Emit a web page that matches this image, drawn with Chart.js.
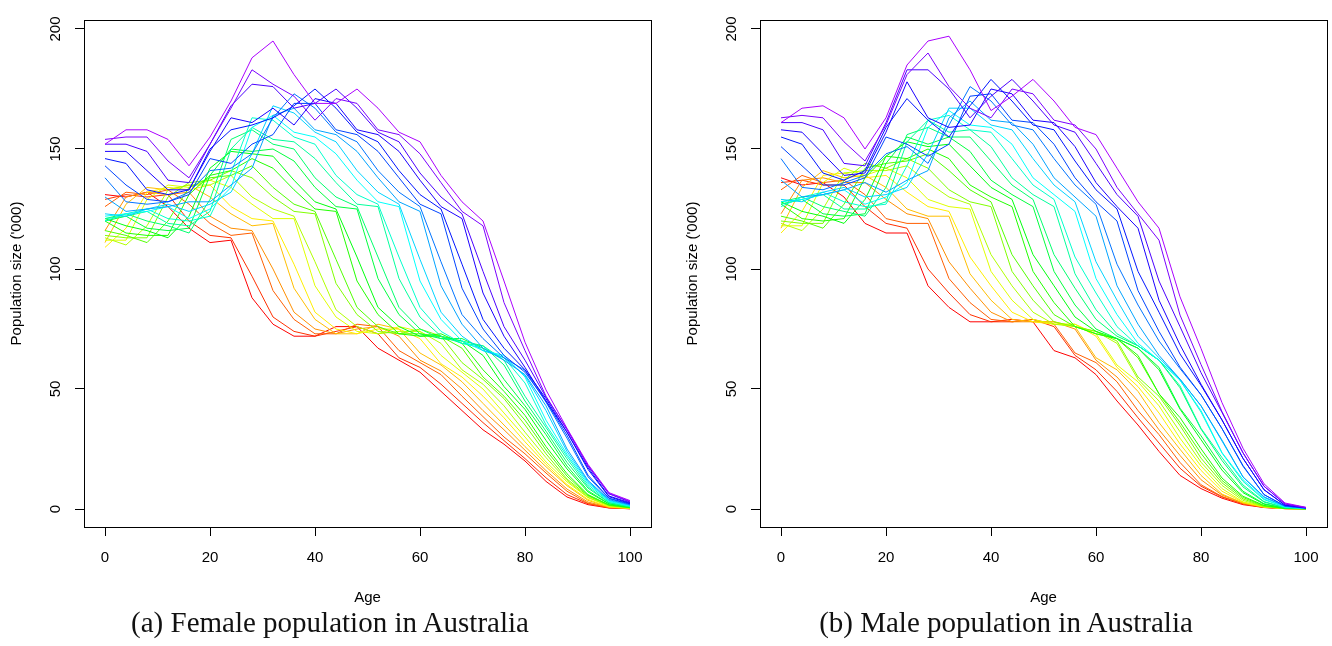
<!DOCTYPE html>
<html>
<head>
<meta charset="utf-8">
<script src="https://cdn.jsdelivr.net/npm/chart.js@4.4.1/dist/chart.umd.min.js"></script>
<style>
  body { margin: 0; background: #fff; width: 1332px; height: 646px; overflow: hidden; position: relative; }
  canvas { position: absolute; top: 0; }
  .cap { position: absolute; top: 608px; width: 660px; text-align: center; line-height: 1;
         font-family: "Liberation Serif", "Times New Roman", serif; font-size: 29px; color: #111; }
</style>
</head>
<body>
<canvas id="female" width="666" height="646" style="left:0"></canvas>
<canvas id="male" width="656" height="646" style="left:676px"></canvas>
<div class="cap" id="capF" style="left:0"></div>
<div class="cap" id="capM" style="left:676px"></div>
<script>
// ages sampled every 4 years, one curve every 2 calendar years (1970 .. 2020)
const ages = [0, 4, 8, 12, 16, 20, 24, 28, 32, 36, 40, 44, 48, 52, 56, 60, 64, 68, 72, 76, 80, 84, 88, 92, 96, 100];
const years = [1970, 1972, 1974, 1976, 1978, 1980, 1982, 1984, 1986, 1988, 1990, 1992, 1994,
               1996, 1998, 2000, 2002, 2004, 2006, 2008, 2010, 2012, 2014, 2016, 2018, 2020];
const ageTicks = [0, 20, 40, 60, 80, 100];
const popTicks = [0, 50, 100, 150, 200];
const xTitle = 'Age';
const yTitle = "Population size ('000)";
const captions = ['(a) Female population in Australia', '(b) Male population in Australia'];

// female population ('000) by age, one array per year
const f1970 = [131, 130, 132, 126, 117, 111, 112, 88, 77, 72, 72, 76, 76, 67, 62, 57, 49, 41, 33, 27, 20, 11.5, 5, 1.8, 0.4, 0.1];
const f1972 = [129, 131, 130, 131, 120, 114, 113, 97, 80, 74, 72, 74, 76, 73, 63, 59, 52, 44, 36, 28.5, 21, 13, 6, 2.2, 0.5, 0.1];
const f1974 = [126, 132, 131, 133, 127, 119, 114, 115, 91, 79, 73, 73, 77, 76, 66, 61, 56, 47, 38.5, 30, 23, 15, 7.4, 2.4, 0.6, 0.15];
const f1976 = [116, 130, 132, 131, 132, 122, 117, 116, 100, 82, 75, 73, 75, 76, 72, 62, 57.5, 50, 41, 33, 24.5, 16, 8.3, 2.9, 0.7, 0.2];
const f1978 = [111, 127, 134, 133, 135, 130, 123, 118, 119, 92, 79, 73, 73, 77, 75, 65, 60, 53, 44, 35, 26, 17.6, 9.7, 3.6, 0.8, 0.25];
const f1980 = [109, 117, 132, 134, 133, 135, 126, 121, 120, 102, 82, 75, 73, 75, 75, 71, 60.5, 55, 47, 38, 28, 18.6, 10.2, 4, 0.9, 0.3];
const f1982 = [112, 112, 129, 135, 134, 137, 134, 127, 121, 121, 93, 80, 74, 73, 76, 74, 64, 57, 50, 40, 30, 19.6, 11.3, 4.7, 1.2, 0.35];
const f1984 = [113, 110, 118, 133, 135, 135, 139, 130, 125, 122, 103, 83, 76, 73, 74, 74, 69, 58, 52, 43, 32, 21.4, 11.9, 4.9, 1.3, 0.4];
const f1986 = [114, 113, 113, 130, 136, 137, 141, 138, 130, 124, 123, 94, 81, 74, 73, 75, 72, 61, 54, 46, 35, 23, 12.5, 5.4, 1.5, 0.5];
const f1988 = [116, 114, 111, 120, 134, 138, 139, 143, 134, 127, 124, 104, 84, 76, 73, 73, 72, 67, 55, 47, 37, 24.6, 13.7, 5.7, 1.6, 0.55];
const f1990 = [120, 115, 114, 114, 131, 139, 141, 146, 142, 133, 125, 124, 95, 81, 73, 72, 73, 69, 58, 49, 39, 26, 14.7, 6, 1.7, 0.6];
const f1992 = [121, 118, 116, 113, 122, 142, 149, 148, 147, 137, 128, 125, 105, 84, 76, 72, 72, 70, 64, 51, 41.5, 28.6, 16.7, 7.1, 2.1, 0.7];
const f1994 = [120, 122, 117, 116, 117, 139, 150, 149, 150, 145, 134, 126, 125, 96, 81, 73, 71, 71, 67, 54, 43, 31, 17.9, 7.6, 2.2, 0.8];
const f1996 = [121, 123, 120, 118, 115, 129, 154, 158, 152, 150, 138, 130, 126, 105, 84, 75, 71, 70, 68, 60, 45, 32.4, 19.4, 8.7, 2.6, 0.9];
const f1998 = [121, 122, 124, 119, 118, 124, 150, 159, 154, 153, 146, 136, 127, 126, 96, 80, 72, 69, 68, 62, 47, 34, 20.9, 9.3, 2.7, 1.0];
const f2000 = [120, 123, 125, 121, 120, 122, 140, 163, 162, 155, 152, 139, 131, 127, 105, 84, 74, 69, 67, 63, 52.5, 35, 22, 10.1, 3.1, 1.2];
const f2002 = [122, 123, 124, 126, 121, 125, 134, 159, 164, 157, 155, 148, 137, 128, 126, 95, 79, 70, 66, 64, 55, 37, 22.8, 10.9, 3.3, 1.3];
const f2004 = [123, 122, 125, 127, 124, 127, 132, 148, 168, 165, 157, 153, 141, 132, 127, 104, 82, 72, 66, 63, 55.6, 41, 23.9, 11.4, 3.6, 1.5];
const f2006 = [130, 124, 125, 126, 128, 128, 135, 142, 164, 167, 158, 156, 149, 138, 128, 124, 93, 77, 67, 62, 56, 43, 25, 11.9, 3.9, 1.7];
const f2008 = [138, 128, 127, 128, 132, 141, 142, 148, 163, 173, 167, 157, 153, 141, 132, 126, 103, 81, 71, 63, 57.8, 44.5, 29.5, 13.4, 4.3, 1.9];
const f2010 = [143, 135, 129, 128, 131, 146, 144, 152, 156, 169, 169, 158, 156, 149, 138, 127, 123, 92, 75, 64, 57, 45, 30.7, 14.1, 4.5, 2.1];
const f2012 = [146, 144, 133, 131, 133, 150, 158, 160, 163, 168, 175, 167, 157, 153, 141, 131, 125, 102, 79, 67, 58, 46, 32, 16.5, 5.1, 2.3];
const f2014 = [149, 149, 141, 133, 133, 149, 163, 161, 167, 160, 171, 169, 158, 156, 149, 137, 126, 121, 90, 72, 59, 45, 32, 17.2, 5.4, 2.6];
const f2016 = [152, 152, 149, 137, 136, 152, 168, 177, 176, 167, 169, 175, 167, 157, 153, 140, 130, 123, 99, 76, 62, 46.6, 33.3, 17.9, 6.3, 2.9];
const f2018 = [154, 155, 155, 145, 138, 152, 167, 183, 177, 172, 162, 171, 169, 158, 156, 148, 136, 124, 118, 86, 66, 47, 33, 18.1, 6.5, 3.2];
const f2020 = [152, 158, 158, 154, 143, 155, 170, 188, 195, 181, 169, 169, 175, 167, 157, 153, 139, 128, 120, 95, 69.5, 49.6, 33.6, 18.6, 6.8, 3.5];

// male population ('000) by age, one array per year
const m1970 = [138, 135, 136, 130, 119, 115, 115, 93, 84, 78, 78, 79, 78, 66, 63, 56, 45, 35, 24, 14, 8.5, 4.5, 1.8, 0.6, 0.15, 0.05];
const m1972 = [136, 137, 135, 135, 126, 119, 117, 100, 90, 81, 78, 78, 79, 76, 64, 58, 49, 38, 27.5, 17, 9.5, 5, 2.1, 0.7, 0.2, 0.05];
const m1974 = [133, 139, 136, 137, 131, 121, 119, 119, 96, 86, 79, 78, 79, 77, 65, 61, 53, 41, 31, 19.4, 10.1, 5.2, 2.2, 0.65, 0.14, 0.05];
const m1976 = [123, 137, 138, 136, 136, 129, 123, 121, 103, 92, 82, 78, 78, 78, 75, 62, 55, 45, 33, 22.3, 12.2, 5.8, 2.5, 0.8, 0.16, 0.06];
const m1978 = [117, 134, 141, 138, 139, 134, 125, 122, 122, 98, 87, 79, 78, 78, 76, 63, 58, 49, 36, 24.9, 14, 6.2, 2.5, 0.8, 0.15, 0.06];
const m1980 = [115, 124, 139, 140, 138, 139, 132, 126, 124, 105, 93, 82, 78, 77, 77, 72, 59, 51, 40, 27.1, 16.1, 7.4, 2.8, 0.9, 0.2, 0.07];
const m1982 = [118, 118, 136, 142, 139, 142, 138, 129, 126, 125, 99, 87, 79, 77, 77, 73, 60, 53, 43, 29.5, 17.9, 8.5, 3, 0.9, 0.2, 0.08];
const m1984 = [119, 116, 125, 140, 141, 141, 143, 136, 130, 127, 106, 93, 82, 77, 76, 74, 69, 54, 45, 32.2, 19.5, 9.8, 3.6, 1, 0.2, 0.08];
const m1986 = [120, 119, 119, 137, 144, 142, 146, 142, 133, 128, 126, 99, 87, 78, 76, 74, 70, 55, 47, 34.8, 21.2, 10.9, 4.2, 1.1, 0.2, 0.09];
const m1988 = [122, 120, 117, 127, 142, 144, 145, 148, 141, 133, 128, 106, 93, 81, 76, 73, 71, 63, 48, 36.1, 23.2, 11.9, 4.8, 1.3, 0.23, 0.1];
const m1990 = [127, 121, 120, 121, 138, 147, 146, 150, 146, 135, 130, 126, 99, 86, 76, 73, 71, 64, 48, 38.1, 25.1, 12.9, 5.3, 1.5, 0.25, 0.1];
const m1992 = [128, 124, 122, 119, 129, 147, 153, 151, 152, 143, 134, 129, 106, 93, 80, 74, 71, 67, 58, 41.6, 28.9, 16.2, 6.8, 2, 0.35, 0.12];
const m1994 = [127, 129, 123, 122, 123, 144, 155, 152, 155, 149, 137, 131, 126, 99, 85, 75, 71, 67, 59, 42, 30.5, 17.6, 7.4, 2.2, 0.4, 0.14];
const m1996 = [128, 130, 126, 124, 122, 134, 156, 159, 155, 155, 145, 135, 129, 106, 92, 79, 72, 68, 62, 50.5, 33.3, 20.2, 9.2, 2.9, 0.5, 0.16];
const m1998 = [127, 129, 131, 125, 125, 128, 153, 162, 157, 158, 151, 138, 131, 126, 98, 83, 73, 68, 62, 51.3, 33.6, 21.4, 10, 3.1, 0.6, 0.18];
const m2000 = [126, 130, 132, 128, 126, 127, 143, 162, 164, 158, 157, 146, 135, 129, 105, 90, 76, 68, 62, 53.7, 40.4, 23.3, 11.5, 3.9, 0.8, 0.2];
const m2002 = [128, 129, 131, 133, 127, 130, 136, 159, 166, 160, 159, 152, 138, 131, 124, 96, 81, 69, 62, 53.7, 41, 23.5, 12.2, 4.2, 0.8, 0.24];
const m2004 = [129, 128, 132, 134, 130, 131, 134, 148, 167, 167, 160, 158, 146, 135, 128, 103, 87, 72, 63, 54.1, 43, 28.3, 13.3, 4.8, 1.1, 0.28];
const m2006 = [137, 130, 131, 133, 136, 132, 137, 141, 163, 170, 162, 161, 152, 138, 130, 122, 93, 77, 64, 54.1, 43, 28.7, 13.4, 5.1, 1.1, 0.3];
const m2008 = [146, 134, 133, 136, 139, 148, 151, 144, 160, 176, 170, 160, 158, 146, 135, 127, 102, 85, 70, 58.5, 47.6, 33.5, 17.8, 6, 1.2, 0.35];
const m2010 = [151, 143, 135, 135, 138, 155, 152, 147, 152, 172, 173, 162, 161, 152, 138, 128, 120, 91, 74, 59.1, 47.6, 33.5, 18.1, 6, 1.3, 0.4];
const m2012 = [155, 152, 140, 137, 141, 159, 171, 162, 155, 168, 179, 170, 160, 158, 145, 133, 125, 99, 82, 64.6, 51.5, 37.1, 21.1, 8, 1.6, 0.45];
const m2014 = [158, 157, 148, 139, 140, 157, 178, 163, 159, 160, 175, 173, 162, 161, 151, 136, 126, 117, 87, 68.4, 52, 37.1, 21.1, 8.1, 1.6, 0.5];
const m2016 = [161, 161, 158, 144, 143, 161, 183, 183, 175, 163, 172, 179, 170, 160, 157, 144, 131, 122, 95, 76, 56.8, 40.2, 23.4, 9.5, 2.1, 0.55];
const m2018 = [163, 164, 163, 153, 145, 160, 181, 190, 176, 167, 163, 175, 173, 162, 160, 150, 134, 123, 112, 80.8, 60.2, 40.6, 23.4, 9.5, 2.1, 0.6];
const m2020 = [161, 167, 168, 163, 150, 163, 185, 195, 197, 183, 166, 172, 179, 170, 159, 156, 142, 128, 117, 88.4, 66.9, 44.3, 25.3, 10.5, 2.5, 0.7];

const female = [f1970, f1972, f1974, f1976, f1978, f1980, f1982, f1984, f1986, f1988, f1990, f1992, f1994,
                f1996, f1998, f2000, f2002, f2004, f2006, f2008, f2010, f2012, f2014, f2016, f2018, f2020];
const male = [m1970, m1972, m1974, m1976, m1978, m1980, m1982, m1984, m1986, m1988, m1990, m1992, m1994,
              m1996, m1998, m2000, m2002, m2004, m2006, m2008, m2010, m2012, m2014, m2016, m2018, m2020];

Chart.defaults.font.family = "'Liberation Sans', Arial, sans-serif";
Chart.defaults.font.size = 15;
Chart.defaults.color = '#000';

// plot frame like R's box()
const boxPlugin = {
  id: 'box',
  afterDraw(chart) {
    const { ctx, chartArea: a } = chart;
    ctx.save();
    ctx.strokeStyle = '#000';
    ctx.lineWidth = 1;
    ctx.strokeRect(Math.round(a.left) + 0.5, Math.round(a.top) + 0.5,
                   Math.round(a.right - a.left), Math.round(a.bottom - a.top));
    ctx.restore();
  }
};

const axisGrid = { display: true, drawOnChartArea: false, drawTicks: true, tickLength: 9, color: '#000', lineWidth: 1 };

function makeChart(id, series) {
  const canvas = document.getElementById(id);
  const n = series.length;
  return new Chart(canvas, {
    type: 'line',
    data: {
      datasets: series.map((vals, k) => ({
        label: String(years[k]),
        data: vals.map((v, i) => ({ x: ages[i], y: v })),
        borderColor: 'hsl(' + (280 * k / (n - 1)).toFixed(1) + ', 100%, 50%)',
        borderWidth: 1,
        pointRadius: 0,
        tension: 0,
        fill: false,
        order: n - 1 - k
      }))
    },
    options: {
      responsive: false,
      animation: false,
      devicePixelRatio: 1,
      layout: { padding: { left: 0, right: canvas.width - 651, top: 20, bottom: 646 - 527 - 80 } },
      plugins: { legend: { display: false }, tooltip: { enabled: false } },
      scales: {
        x: {
          type: 'linear', min: -4, max: 104,
          afterBuildTicks: s => { s.ticks = ageTicks.map(v => ({ value: v })); },
          afterFit: s => { s.height = 80; },
          grid: axisGrid,
          border: { display: true, color: '#000', width: 1 },
          ticks: { padding: 13, maxRotation: 0, autoSkip: false },
          title: { display: true, text: xTitle, padding: { top: 0, bottom: 0 } }
        },
        y: {
          type: 'linear', min: -7.5, max: 203.75,
          afterBuildTicks: s => { s.ticks = popTicks.map(v => ({ value: v })); },
          afterFit: s => { s.width = 84; },
          grid: axisGrid,
          border: { display: true, color: '#000', width: 1 },
          ticks: { minRotation: 90, maxRotation: 90, crossAlign: 'center', padding: 6.5, autoSkip: false },
          title: { display: true, text: yTitle, padding: { top: 7.5, bottom: 0 } }
        }
      }
    },
    plugins: [boxPlugin]
  });
}

makeChart('female', female);
makeChart('male', male);
document.getElementById('capF').textContent = captions[0];
document.getElementById('capM').textContent = captions[1];
</script>
</body>
</html>
